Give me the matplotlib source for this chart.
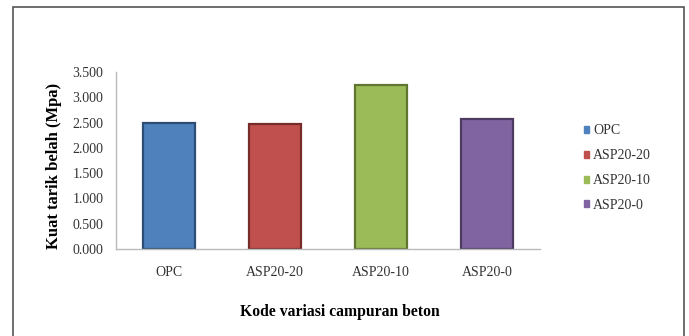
#!/usr/bin/env python3
import numpy as np
import matplotlib
matplotlib.use('Agg')
import matplotlib.pyplot as plt
from matplotlib.patches import Rectangle
import matplotlib.ticker as mticker

plt.rcParams['font.family'] = ['Liberation Serif', 'DejaVu Serif']

# data
categories = ['OPC', 'ASP20-20', 'ASP20-10', 'ASP20-0']
values = [2.49, 2.47, 3.24, 2.57]
colors = ['#4F81BD', '#C0504D', '#9BBB59', '#8064A2']
edges = ['#2C4D75', '#772C2A', '#5F7530', '#4D3B62']
yticks = [0.0, 0.5, 1.0, 1.5, 2.0, 2.5, 3.0, 3.5]

W, H = 689, 336
fig = plt.figure(figsize=(W / 100, H / 100), dpi=100)

# outer frame of the chart area
fig.patches.append(Rectangle((13 / W, -0.02), (684 - 13) / W, 1.02 - 7 / H,
                             transform=fig.transFigure, fill=False,
                             edgecolor='#555555', linewidth=1.2))

ax = fig.add_axes([116 / W, 1 - 249 / H, (540 - 116) / W, (249 - 72) / H])
x = np.arange(len(categories))
bars = ax.bar(x, values, width=0.49, color=colors, edgecolor=edges,
              linewidth=1.6, label=categories)

ax.set_xlim(-0.5, len(categories) - 0.5)
ax.set_ylim(0, 3.5)
ax.set_yticks(yticks)
ax.yaxis.set_major_formatter(mticker.FuncFormatter(lambda v, p: '%.3f' % v))
ax.set_xticks(x)
ax.set_xticklabels(categories)
ax.tick_params(axis='both', length=0, labelsize=10, colors='#333333')
ax.tick_params(axis='x', pad=12)
ax.tick_params(axis='y', pad=9)

for s in ['top', 'right']:
    ax.spines[s].set_visible(False)
for s in ['left', 'bottom']:
    ax.spines[s].set_color('#BBBBBB')
    ax.spines[s].set_linewidth(1.0)

ax.set_ylabel('Kuat tarik belah (Mpa)', fontsize=12, fontweight='bold')
ax.yaxis.set_label_coords((62 - 116) / (540 - 116), 0.47)
fig.text(340 / W, 1 - 312 / H, 'Kode variasi campuran beton', fontsize=11.3,
         fontweight='bold', ha='center', va='center')

handles = [Rectangle((0, 0), 1, 1, facecolor=c, edgecolor=c) for c in colors]
ax.legend(handles, categories, loc='upper left',
          bbox_to_anchor=(571 / W, 1 - 112 / H), bbox_transform=fig.transFigure,
          frameon=False, fontsize=10, handlelength=0.4, handleheight=0.4,
          handletextpad=0.3, labelspacing=0.85, labelcolor='#333333')

fig.savefig('out.png', dpi=100)
